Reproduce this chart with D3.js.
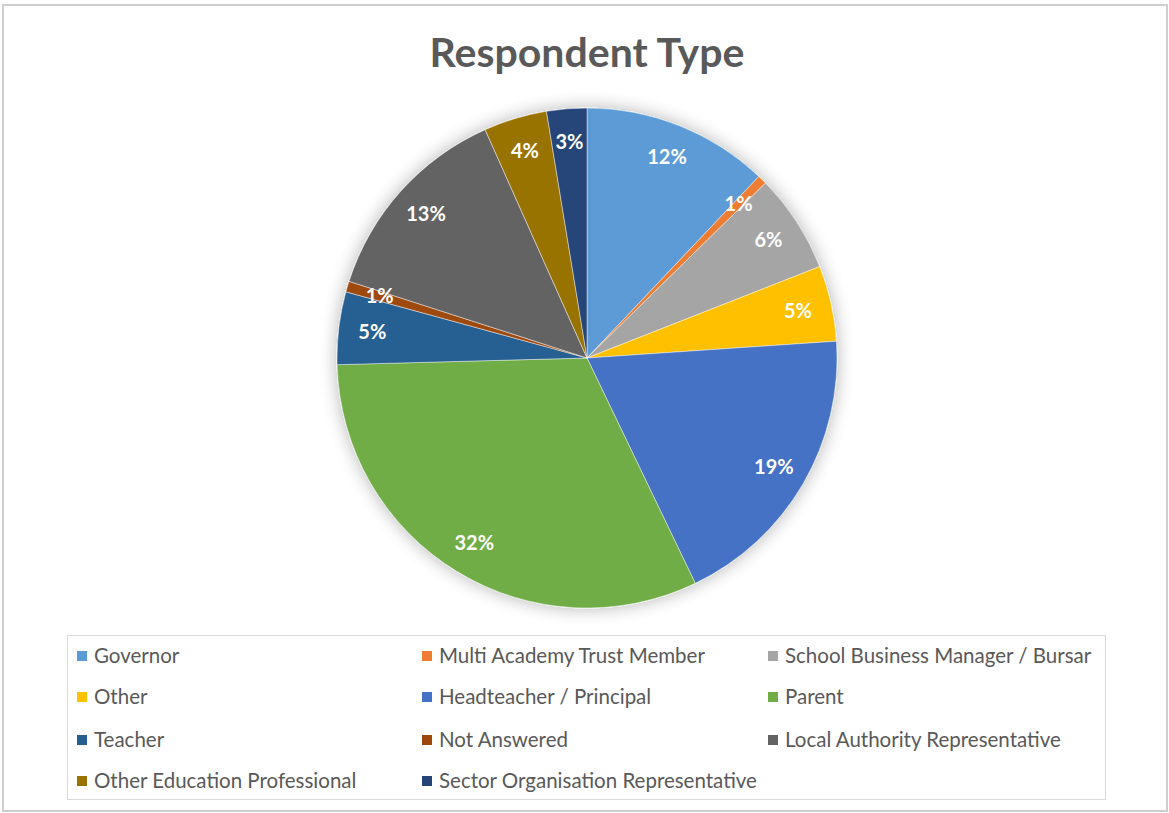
<!DOCTYPE html>
<html>
<head>
<meta charset="utf-8">
<script src="https://cdn.jsdelivr.net/npm/d3@7"></script>
<style>
  body { margin: 0; background: #fff; }
  svg { display: block; font-family: Lato, "Open Sans", sans-serif; }
</style>
</head>
<body>
<svg id="chart" width="1169" height="813"></svg>
<script>
// respondent categories, in the order the slices run (clockwise from 12 o'clock)
var categories = ['Governor', 'Multi Academy Trust Member', 'School Business Manager / Bursar',
  'Other', 'Headteacher / Principal', 'Parent', 'Teacher', 'Not Answered',
  'Local Authority Representative', 'Other Education Professional', 'Sector Organisation Representative'];

// share of respondents (%)
var shares = [12.1, 0.6, 6.4, 4.9, 19.0, 31.8, 4.7, 0.7, 13.4, 4.1, 2.6];

var colours = ['#5B9BD5', '#ED7D31', '#A5A5A5', '#FFC000', '#4472C4', '#70AD47',
  '#255E91', '#9E480E', '#636363', '#997300', '#264478'];

var svg = d3.select('#chart');

// outer chart frame
svg.append('rect')
   .attr('x', 3).attr('y', 5)
   .attr('width', 1164).attr('height', 806)
   .attr('fill', '#fff')
   .attr('stroke', '#cfcfcf')
   .attr('stroke-width', 2);

svg.append('text')
   .attr('x', 587).attr('y', 67)
   .attr('text-anchor', 'middle')
   .attr('font-size', 41)
   .attr('font-weight', 'bold')
   .attr('fill', '#595959')
   .text('Respondent Type');

// soft shadow round the pie
var defs = svg.append('defs');
var filt = defs.append('filter').attr('id', 'shadow')
   .attr('x', '-20%').attr('y', '-20%').attr('width', '140%').attr('height', '140%');
filt.append('feGaussianBlur').attr('in', 'SourceAlpha').attr('stdDeviation', 9).attr('result', 'blur');
filt.append('feComponentTransfer').attr('in', 'blur').attr('result', 'soft')
    .append('feFuncA').attr('type', 'linear').attr('slope', 0.3);
var merge = filt.append('feMerge');
merge.append('feMergeNode').attr('in', 'soft');
merge.append('feMergeNode').attr('in', 'SourceGraphic');

var cx = 587, cy = 358, radius = 250;

var data = categories.map((c, i) => ({name: c, value: shares[i], colour: colours[i]}));
var total = d3.sum(shares);

var pie = d3.pie().sort(null).value(d => d.value);
var arc = d3.arc().innerRadius(0).outerRadius(radius);
var labelArc = d3.arc().innerRadius(radius * 0.865).outerRadius(radius * 0.865);

var g = svg.append('g')
   .attr('transform', 'translate(' + cx + ',' + cy + ')');

g.append('g')
 .attr('filter', 'url(#shadow)')
 .selectAll('path')
 .data(pie(data))
 .enter()
 .append('path')
 .attr('d', arc)
 .attr('fill', d => d.data.colour)
 .attr('stroke', '#ffffff')
 .attr('stroke-opacity', 0.6)
 .attr('stroke-width', 0.75);

g.selectAll('.slice-label')
 .data(pie(data))
 .enter()
 .append('text')
 .attr('class', 'slice-label')
 .attr('transform', d => 'translate(' + labelArc.centroid(d) + ')')
 .attr('text-anchor', 'middle')
 .attr('dy', '0.35em')
 .attr('font-size', 20)
 .attr('font-weight', 'bold')
 .attr('fill', '#ffffff')
 .text(d => Math.round(d.data.value / total * 100) + '%');

// legend, three columns
var legend = svg.append('g');
legend.append('rect')
      .attr('x', 67.5).attr('y', 635.5)
      .attr('width', 1038).attr('height', 164)
      .attr('fill', 'none')
      .attr('stroke', '#d9d9d9')
      .attr('stroke-width', 1);

var colX = [77, 422, 768];
var rowY = [656, 697, 740, 781];

var item = legend.selectAll('.legend-item')
   .data(data)
   .enter()
   .append('g')
   .attr('class', 'legend-item')
   .attr('transform', (d, i) => 'translate(' + colX[i % 3] + ',' + rowY[Math.floor(i / 3)] + ')');

item.append('rect')
    .attr('x', 0).attr('y', -5)
    .attr('width', 10).attr('height', 10)
    .attr('fill', d => d.colour);

item.append('text')
    .attr('x', 17).attr('dy', '0.35em')
    .attr('font-size', 20.5)
    .attr('fill', '#595959')
    .text(d => d.name);
</script>
</body>
</html>
